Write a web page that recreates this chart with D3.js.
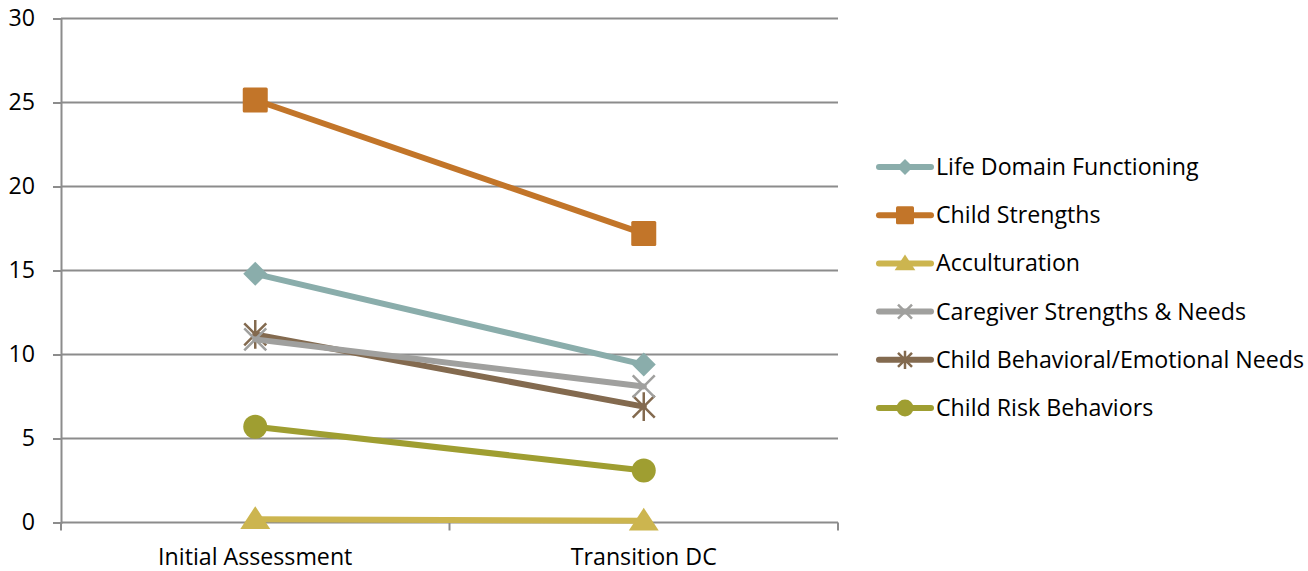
<!DOCTYPE html>
<html>
<head>
<meta charset="utf-8">
<script src="https://cdn.jsdelivr.net/npm/d3@7"></script>
<style>
  html, body { margin: 0; padding: 0; background: #fff; }
  svg { display: block; }
  text { font-family: "Open Sans", "Noto Sans", sans-serif; fill: #000; }
</style>
</head>
<body>
<svg id="chart" width="1308" height="571"></svg>
<script>
// Categories along the x axis
const categories = ["Initial Assessment", "Transition DC"];

// Series names, values and colours
const seriesNames = [
  "Life Domain Functioning",
  "Child Strengths",
  "Acculturation",
  "Caregiver Strengths & Needs",
  "Child Behavioral/Emotional Needs",
  "Child Risk Behaviors"
];
const lifeDomain = [14.8, 9.4];
const childStrengths = [25.15, 17.2];
const acculturation = [0.2, 0.1];
const caregiver = [10.9, 8.1];
const behavioral = [11.2, 6.9];
const riskBehaviors = [5.7, 3.1];
const seriesColors = ["#8aadab", "#c27529", "#ccb54f", "#a0a09e", "#836a4f", "#9f9e31"];
const markerTypes = ["diamond", "square", "triangle", "x", "star", "circle"];

// Y axis ticks
const yTicks = [0, 5, 10, 15, 20, 25, 30];

const seriesValues = [lifeDomain, childStrengths, acculturation, caregiver, behavioral, riskBehaviors];

const svg = d3.select("#chart");
const plot = { left: 61, right: 838, top: 18.5, bottom: 522.5 };
const fontSize = 23.2;

const x = d3.scaleBand().domain(categories).range([plot.left, plot.right]);
const y = d3.scaleLinear().domain([0, 30]).range([plot.bottom, plot.top]);
const gridColor = "#8c8c8c";

// Horizontal gridlines with left tick stubs
const yAxis = d3.axisLeft(y).tickValues(yTicks).tickSize(8).tickPadding(18).tickFormat(d3.format("d"));
const yg = svg.append("g").attr("transform", `translate(${plot.left},0)`).call(yAxis);
yg.select(".domain").attr("stroke", gridColor).attr("stroke-width", 2);
yg.selectAll(".tick line").attr("stroke", gridColor).attr("stroke-width", 2);
yg.selectAll(".tick text").attr("font-size", fontSize).attr("font-family", "Open Sans, sans-serif").attr("fill", "#000");

svg.append("g").selectAll("line").data(yTicks.filter(d => d > 0)).join("line")
  .attr("x1", plot.left).attr("x2", plot.right)
  .attr("y1", d => y(d)).attr("y2", d => y(d))
  .attr("stroke", gridColor).attr("stroke-width", 2);

// Category axis with ticks between categories
const xg = svg.append("g").attr("transform", `translate(0,${plot.bottom})`);
xg.append("line").attr("x1", plot.left).attr("x2", plot.right)
  .attr("stroke", gridColor).attr("stroke-width", 2);
const bounds = [plot.left, x(categories[1]), plot.right];
xg.selectAll("line.tk").data(bounds).join("line").attr("class", "tk")
  .attr("x1", d => d).attr("x2", d => d).attr("y1", 0).attr("y2", 8)
  .attr("stroke", gridColor).attr("stroke-width", 2);
xg.selectAll("text").data(categories).join("text")
  .attr("x", d => x(d) + x.bandwidth() / 2).attr("y", 42)
  .attr("text-anchor", "middle").attr("font-size", fontSize).text(d => d);

// Marker drawing
function drawMarker(g, type, color, size) {
  const s = size;
  if (type === "diamond") {
    g.append("path").attr("d", `M0,${-s}L${s},0L0,${s}L${-s},0Z`).attr("fill", color);
  } else if (type === "square") {
    g.append("rect").attr("x", -s).attr("y", -s).attr("width", 2 * s).attr("height", 2 * s).attr("rx", 1.5).attr("fill", color);
  } else if (type === "triangle") {
    g.append("path").attr("d", `M0,${-s}L${s * 1.15},${s * 0.75}L${-s * 1.15},${s * 0.75}Z`).attr("fill", color);
  } else if (type === "circle") {
    g.append("circle").attr("r", s).attr("fill", color);
  } else if (type === "x") {
    g.append("path").attr("d", `M${-s},${-s}L${s},${s}M${-s},${s}L${s},${-s}`)
      .attr("stroke", color).attr("stroke-width", 2.5).attr("fill", "none");
  } else if (type === "star") {
    g.append("path").attr("d", `M${-s},${-s}L${s},${s}M${-s},${s}L${s},${-s}M0,${-s * 1.3}L0,${s * 1.3}`)
      .attr("stroke", color).attr("stroke-width", 2.5).attr("fill", "none");
  }
}

const markerSize = { diamond: 12, square: 12.5, triangle: 13, circle: 12, x: 11, star: 11 };
const legendMarker = { diamond: 8, square: 9, triangle: 9, circle: 8.5, x: 7, star: 7 };

const line = d3.line().x((d, i) => x(categories[i]) + x.bandwidth() / 2).y(d => y(d));

// Lines and markers (drawn in reverse so earlier series sit on top)
const order = d3.range(seriesNames.length).reverse();
order.forEach(i => {
  const g = svg.append("g");
  g.append("path").datum(seriesValues[i]).attr("d", line)
    .attr("fill", "none").attr("stroke", seriesColors[i]).attr("stroke-width", 6).attr("stroke-linecap", "round");
  seriesValues[i].forEach((v, j) => {
    const m = g.append("g").attr("transform", `translate(${x(categories[j]) + x.bandwidth() / 2},${y(v)})`);
    drawMarker(m, markerTypes[i], seriesColors[i], markerSize[markerTypes[i]]);
  });
});

// Legend
const legend = svg.append("g");
seriesNames.forEach((name, i) => {
  const cy = 167 + i * 48.2;
  const g = legend.append("g").attr("transform", `translate(0,${cy})`);
  g.append("line").attr("x1", 879).attr("x2", 931).attr("stroke", seriesColors[i])
    .attr("stroke-width", 6).attr("stroke-linecap", "round");
  const m = g.append("g").attr("transform", "translate(905,0)");
  drawMarker(m, markerTypes[i], seriesColors[i], legendMarker[markerTypes[i]]);
  g.append("text").attr("x", 936).attr("y", 8).attr("font-size", fontSize).text(name);
});
</script>
</body>
</html>
